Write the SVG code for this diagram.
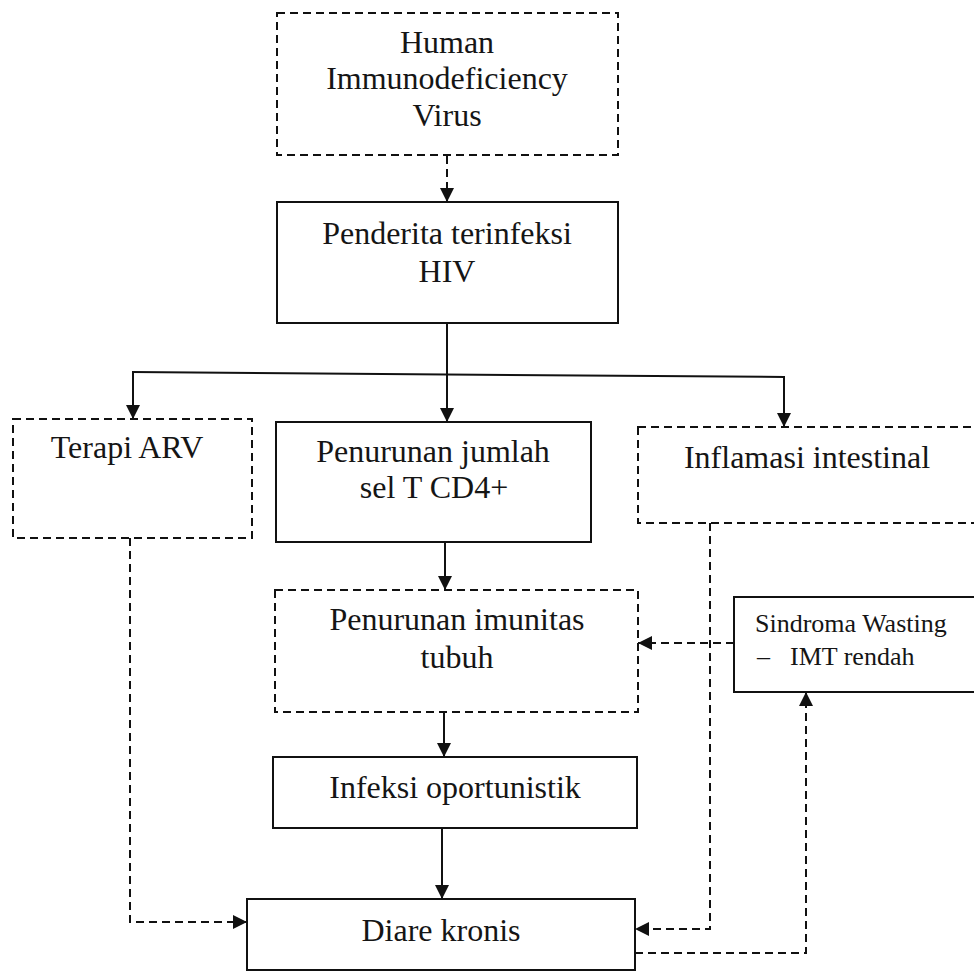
<svg xmlns="http://www.w3.org/2000/svg" width="974" height="973" viewBox="0 0 974 973">
<style>
  .box{fill:#fff;stroke:#111;stroke-width:2}
  .dash{stroke-dasharray:8 5}
  .t{font-family:"Liberation Serif","Times New Roman",serif;font-size:32px;fill:#151515;text-anchor:middle}
  .ts{font-family:"Liberation Serif","Times New Roman",serif;font-size:26px;fill:#151515}
  .ln{fill:none;stroke:#111;stroke-width:2}
</style>
<defs>
  <marker id="ah" markerUnits="userSpaceOnUse" markerWidth="15" markerHeight="14" refX="14" refY="7" orient="auto">
    <path d="M0,0 L14,7 L0,14 z" fill="#111"/>
  </marker>
</defs>
<rect width="974" height="973" fill="#fff"/>

<g id="connectors">
  <line class="ln dash" x1="447" y1="156" x2="447" y2="202" marker-end="url(#ah)"/>
  <line class="ln" x1="447" y1="323" x2="447" y2="422" marker-end="url(#ah)"/>
  <line class="ln" x1="132" y1="372" x2="785" y2="377"/>
  <line class="ln" x1="133" y1="372" x2="133" y2="419" marker-end="url(#ah)"/>
  <line class="ln" x1="784" y1="377" x2="784" y2="427" marker-end="url(#ah)"/>
  <line class="ln" x1="445" y1="542" x2="445" y2="590" marker-end="url(#ah)"/>
  <line class="ln" x1="444" y1="712" x2="444" y2="757" marker-end="url(#ah)"/>
  <line class="ln" x1="442" y1="828" x2="442" y2="899" marker-end="url(#ah)"/>
  <polyline class="ln dash" points="130,538 130,922 247,922" marker-end="url(#ah)"/>
  <polyline class="ln dash" points="710,523 710,929 635,929" marker-end="url(#ah)"/>
  <polyline class="ln dash" points="635,953 806,953 806,692" marker-end="url(#ah)"/>
  <line class="ln dash" x1="734" y1="643" x2="638" y2="643" marker-end="url(#ah)"/>
</g>

<g id="hiv">
  <rect class="box dash" x="277" y="13" width="341" height="142"/>
  <text class="t" x="447" y="53">Human</text>
  <text class="t" x="447" y="89">Immunodeficiency</text>
  <text class="t" x="447" y="126">Virus</text>
</g>

<g id="penderita">
  <rect class="box" x="277" y="202" width="341" height="121"/>
  <text class="t" x="447" y="244">Penderita terinfeksi</text>
  <text class="t" x="447" y="282">HIV</text>
</g>

<g id="terapi">
  <rect class="box dash" x="13" y="419" width="239" height="119"/>
  <text class="t" x="127" y="458">Terapi ARV</text>
</g>

<g id="penurunan-cd4">
  <rect class="box" x="276" y="422" width="315" height="120"/>
  <text class="t" x="433" y="462">Penurunan jumlah</text>
  <text class="t" x="434" y="498">sel T CD4+</text>
</g>

<g id="inflamasi">
  <rect class="box dash" x="638" y="427" width="350" height="96"/>
  <text class="t" x="807" y="468">Inflamasi intestinal</text>
</g>

<g id="imunitas">
  <rect class="box dash" x="275" y="590" width="363" height="122"/>
  <text class="t" x="457" y="630">Penurunan imunitas</text>
  <text class="t" x="457" y="668">tubuh</text>
</g>

<g id="wasting">
  <rect class="box" x="734" y="597" width="250" height="95"/>
  <text class="ts" x="755" y="632">Sindroma Wasting</text>
  <text class="ts" y="665"><tspan x="757">–</tspan><tspan x="790">IMT rendah</tspan></text>
</g>

<g id="infeksi">
  <rect class="box" x="273" y="757" width="364" height="71"/>
  <text class="t" x="455" y="798">Infeksi oportunistik</text>
</g>

<g id="diare">
  <rect class="box" x="247" y="899" width="388" height="71"/>
  <text class="t" x="441" y="941">Diare kronis</text>
</g>
</svg>
